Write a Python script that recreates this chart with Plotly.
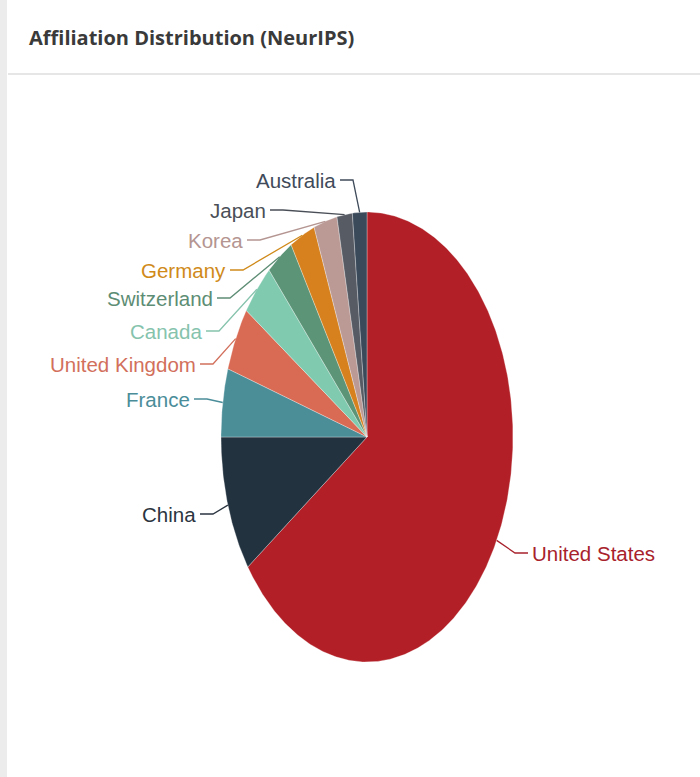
import numpy as np
import plotly.graph_objects as go

# ---------------- data ----------------
countries = ["United States", "China", "France", "United Kingdom", "Canada",
             "Switzerland", "Germany", "Korea", "Japan", "Australia"]
shares = [65.2, 9.8, 4.9, 4.6, 3.8, 3.0, 2.8, 2.6, 1.7, 1.6]
title_text = "Affiliation Distribution (NeurIPS)"

# ---------------- styles ----------------
slice_colors = ["#b21f26", "#22323f", "#4b8e98", "#d96a53", "#80cbb0",
                "#5b9477", "#d6811d", "#bb9a96", "#575b63", "#3b4a5b"]
label_colors = ["#a8222c", "#2b3540", "#4a8d99", "#d2705c", "#86c3ad",
                "#5d8d74", "#d08a1a", "#b49591", "#4a4f57", "#3f4b5a"]

# ---------------- layout geometry (pixels) ----------------
W, H = 700, 777
CX, CY = 367, 437          # pie centre
RX, RY = 146, 225          # pie radii (pie drawn stretched vertically)
# label anchor (x of text edge, y centre, side)
label_pos = [(530, 553, "left"), (198, 514, "right"), (192, 399, "right"),
             (198, 364, "right"), (204, 331, "right"), (215, 298, "right"),
             (228, 270, "right"), (245, 240, "right"), (268, 210, "right"),
             (338, 180, "right")]


def to_data(px, py):
    return (px - CX) / RX, (CY - py) / RY


fig = go.Figure()

total = float(sum(shares))
start = 0.0
mids = []
for name, val, col in zip(countries, shares, slice_colors):
    a0 = start / total * 2 * np.pi
    a1 = (start + val) / total * 2 * np.pi
    start += val
    n = max(8, int(val * 6))
    t = np.linspace(a0, a1, n)
    xs = np.concatenate([[0], np.sin(t), [0]])
    ys = np.concatenate([[0], np.cos(t), [0]])
    fig.add_trace(go.Scatter(x=xs, y=ys, fill="toself", fillcolor=col, mode="lines",
                             line=dict(color="rgba(255,255,255,0.5)", width=0.6),
                             name=name, hoverinfo="text",
                             text=f"{name}: {val}%", showlegend=False))
    mids.append((a0 + a1) / 2)

annotations = []
for name, m, (lx, ly, side), lc in zip(countries, mids, label_pos, label_colors):
    ex, ey = np.sin(m), np.cos(m)
    sgn = 1 if side == "right" else -1
    sx, sy = to_data(lx + 2 * sgn, ly)
    kx, ky = to_data(lx + 15 * sgn, ly)
    fig.add_trace(go.Scatter(x=[sx, kx, ex], y=[sy, ky, ey], mode="lines",
                             line=dict(color=lc, width=1.3), hoverinfo="skip",
                             showlegend=False))
    tx, ty = to_data(lx, ly)
    annotations.append(dict(x=tx, y=ty, xref="x", yref="y", text=name,
                            showarrow=False, xanchor=side, yanchor="middle",
                            font=dict(family="Liberation Sans, Arial, sans-serif",
                                      size=20.5, color=lc)))

annotations.append(dict(x=27 / W, y=1 - 37 / H, xref="paper", yref="paper",
                        text=f"<b>{title_text}</b>", showarrow=False,
                        xanchor="left", yanchor="middle",
                        font=dict(family="Open Sans, sans-serif", size=20, color="#3a3a3a")))

shapes = [
    dict(type="rect", xref="paper", yref="paper", x0=0, x1=7 / W, y0=0, y1=1,
         fillcolor="#ececec", line=dict(width=0), layer="below"),
    dict(type="line", xref="paper", yref="paper", x0=8 / W, x1=1, y0=1 - 74 / H, y1=1 - 74 / H,
         line=dict(color="#e6e6e6", width=2)),
]

x0, _ = to_data(0, 0)
x1, _ = to_data(W, 0)
_, ytop = to_data(0, 0)
_, ybot = to_data(0, H)

fig.update_layout(
    width=W, height=H,
    margin=dict(l=0, r=0, t=0, b=0),
    paper_bgcolor="white", plot_bgcolor="white",
    xaxis=dict(range=[x0, x1], visible=False, fixedrange=True),
    yaxis=dict(range=[ybot, ytop], visible=False, fixedrange=True),
    annotations=annotations, shapes=shapes,
    showlegend=False,
)

fig.write_html("out.html", config={"displayModeBar": False},
               post_script="document.body.style.margin='0px';document.body.style.overflow='hidden';")
